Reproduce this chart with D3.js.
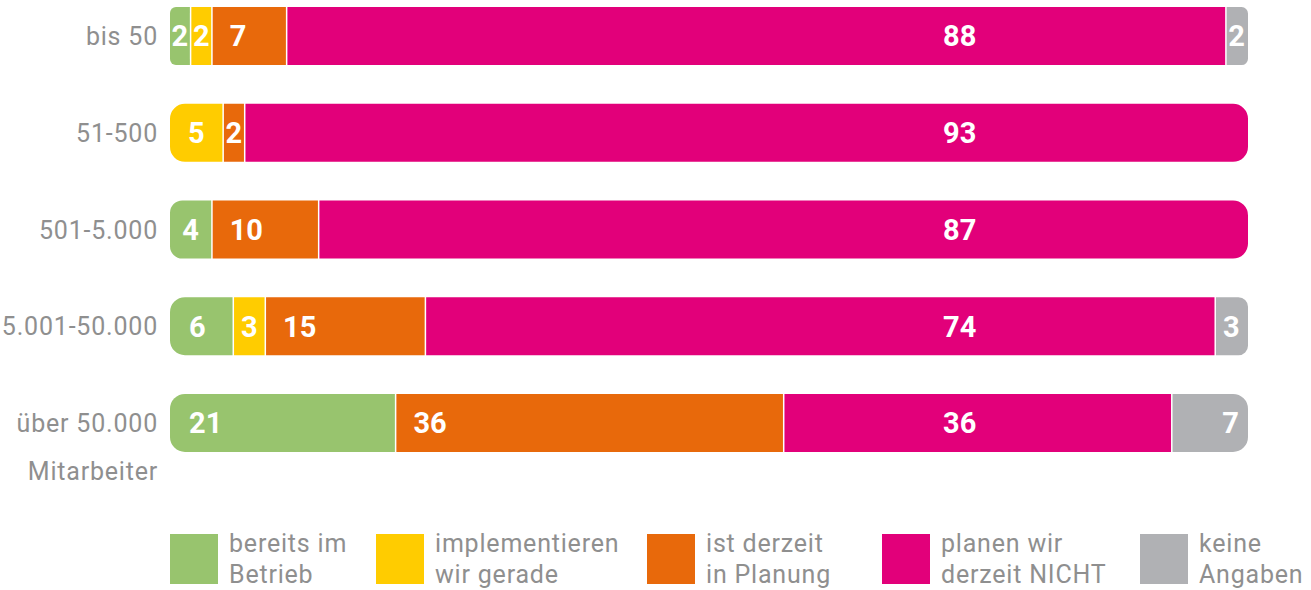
<!DOCTYPE html>
<html>
<head>
<meta charset="utf-8">
<script src="https://cdn.jsdelivr.net/npm/d3@7"></script>
<style>
  body { margin: 0; background: #fff; }
  text { font-family: Roboto, "DejaVu Sans", sans-serif; }
</style>
</head>
<body>
<div id="chart"></div>
<script>
// Data (percent per company size)
var categories = ["bis 50", "51-500", "501-5.000", "5.001-50.000", "über 50.000"];
var seriesKeys = ["betrieb", "implementieren", "planung", "nicht", "keine"];
var seriesLabels = [["bereits im", "Betrieb"], ["implementieren", "wir gerade"], ["ist derzeit", "in Planung"], ["planen wir", "derzeit NICHT"], ["keine", "Angaben"]];
var betrieb        = [2, 0, 4, 6, 21];
var implementieren = [2, 5, 0, 3, 0];
var planung        = [7, 2, 10, 15, 36];
var nicht          = [88, 93, 87, 74, 36];
var keine          = [2, 0, 0, 3, 7];
var colors = ["#98c46e", "#ffcc00", "#e8690b", "#e2007a", "#b0b1b4"];

var rows = categories.map(function(c, i) {
  return { cat: c, betrieb: betrieb[i], implementieren: implementieren[i],
           planung: planung[i], nicht: nicht[i], keine: keine[i] };
});

var width = 1311, height = 590;
var textGrey = "#8f8f8f";

var svg = d3.select("#chart").append("svg")
  .attr("width", width)
  .attr("height", height);

// each bar is shown as full width (shares of its own total)
var stack = d3.stack().keys(seriesKeys).offset(d3.stackOffsetExpand);
var layers = stack(rows);

var x = d3.scaleLinear().domain([0, 1]).range([170, 1248]);
var y = d3.scaleBand().domain(categories).range([7, 452]).paddingInner(0.4).paddingOuter(0);
var color = d3.scaleOrdinal().domain(seriesKeys).range(colors);

// path of a rect with optional rounded left / right ends
function segPath(x0, y0, w, h, rl, rr) {
  return "M" + (x0 + rl) + "," + y0 +
    "H" + (x0 + w - rr) +
    (rr ? "A" + rr + "," + rr + " 0 0 1 " + (x0 + w) + "," + (y0 + rr) : "") +
    "V" + (y0 + h - rr) +
    (rr ? "A" + rr + "," + rr + " 0 0 1 " + (x0 + w - rr) + "," + (y0 + h) : "") +
    "H" + (x0 + rl) +
    (rl ? "A" + rl + "," + rl + " 0 0 1 " + x0 + "," + (y0 + h - rl) : "") +
    "V" + (y0 + rl) +
    (rl ? "A" + rl + "," + rl + " 0 0 1 " + (x0 + rl) + "," + y0 : "") + "Z";
}

var segs = [];
rows.forEach(function(r, i) {
  var nz = seriesKeys.filter(function(k) { return r[k] > 0; });
  layers.forEach(function(layer) {
    var d = layer[i];
    var k = layer.key;
    if (r[k] <= 0) return;
    segs.push({
      cat: r.cat, key: k, value: r[k],
      x0: x(d[0]), x1: x(d[1]),
      first: k === nz[0], last: k === nz[nz.length - 1]
    });
  });
});

var gap = 1.5;
var bars = svg.append("g").attr("class", "bars");

bars.selectAll("path")
  .data(segs)
  .enter()
  .append("path")
    .attr("d", function(d) {
      var w = d.x1 - d.x0 - (d.last ? 0 : gap);
      var r = Math.min(15, w * 0.3);
      return segPath(d.x0, y(d.cat), w, y.bandwidth(), d.first ? r : 0, d.last ? r : 0);
    })
    .style("fill", function(d) { return color(d.key); });

// value labels: narrow segments centred, magenta in one column, grey right aligned
function labelMode(d) {
  var w = d.x1 - d.x0;
  if (d.key === "nicht") return "column";
  if (w < 60) return "middle";
  if (d.key === "keine") return "end";
  return "start";
}

bars.selectAll("text")
  .data(segs)
  .enter()
  .append("text")
    .attr("x", function(d) {
      var m = labelMode(d);
      if (m === "column") return 943;
      if (m === "middle") return (d.x0 + d.x1 - gap) / 2;
      if (m === "end") return d.x1 - 9;
      return d.x0 + (d.key === "betrieb" ? 19 : 17);
    })
    .attr("y", function(d) { return y(d.cat) + y.bandwidth() / 2; })
    .attr("dy", "0.36em")
    .attr("text-anchor", function(d) {
      var m = labelMode(d);
      return m === "column" ? "start" : m;
    })
    .style("fill", "#fff")
    .style("font-size", "29px")
    .style("font-weight", "bold")
    .text(function(d) { return d.value; });

// category labels
var labels = svg.append("g").attr("class", "cat-labels");
labels.selectAll("text")
  .data(categories)
  .enter()
  .append("text")
    .attr("x", 158)
    .attr("y", function(d) { return y(d) + y.bandwidth() / 2; })
    .attr("dy", "0.36em")
    .attr("text-anchor", "end")
    .style("fill", textGrey)
    .style("font-size", "25px")
    .style("letter-spacing", "0.8px")
    .text(function(d) { return d; });

labels.append("text")
  .attr("x", 158)
  .attr("y", 471)
  .attr("dy", "0.36em")
  .attr("text-anchor", "end")
  .style("fill", textGrey)
  .style("font-size", "25px")
  .style("letter-spacing", "0.8px")
  .text("Mitarbeiter");

// legend
var legendX = [170, 376, 647, 882, 1140];
var legend = svg.append("g").attr("class", "legend");
var items = legend.selectAll("g")
  .data(seriesKeys)
  .enter()
  .append("g")
    .attr("transform", function(d, i) { return "translate(" + legendX[i] + ",534)"; });

items.append("rect")
  .attr("width", 48)
  .attr("height", 50)
  .style("fill", function(d) { return color(d); });

items.each(function(d, i) {
  var t = d3.select(this).append("text")
    .style("fill", textGrey)
    .style("font-size", "25px")
    .style("letter-spacing", "0.8px");
  seriesLabels[i].forEach(function(line, j) {
    t.append("tspan").attr("x", 59).attr("y", 18 + j * 31).text(line);
  });
});
</script>
</body>
</html>
